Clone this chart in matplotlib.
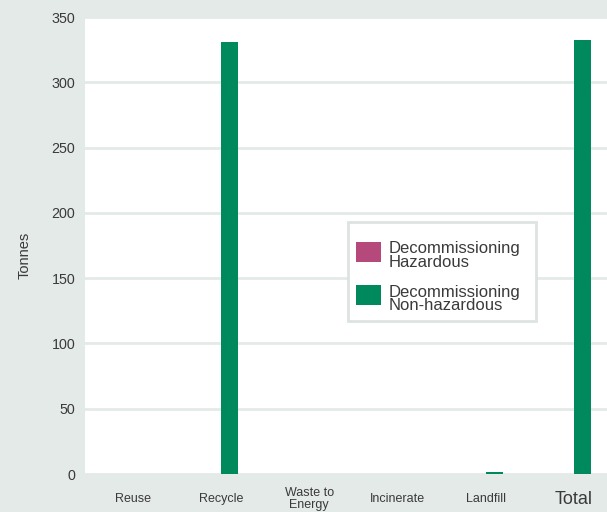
import matplotlib.pyplot as plt
from matplotlib.patches import Rectangle
import numpy as np

categories = ["Reuse", "Recycle", "Waste to\nEnergy", "Incinerate", "Landfill", "Total"]
series = ["Decommissioning\nHazardous", "Decommissioning\nNon-hazardous"]
hazardous = [0, 0, 0, 0, 0, 0]
non_hazardous = [0, 331, 0, 0, 1.5, 332.5]
y_ticks = [0, 50, 100, 150, 200, 250, 300, 350]

BG = "#e4eae7"
GREEN = "#00895c"
PINK = "#b5497c"
TEXT = "#3a3a3a"
W, H = 607, 512

plt.rcParams["font.family"] = ["Liberation Sans", "DejaVu Sans"]

fig = plt.figure(figsize=(W / 100, H / 100), dpi=100, facecolor=BG)
ax = fig.add_axes([85 / W, 38 / H, 522 / W, 457 / H])
ax.set_facecolor("white")

x = np.arange(len(categories))
w = 0.193
colors = [PINK, GREEN]
ax.bar(x - w / 2, hazardous, w, color=colors[0], zorder=3)
ax.bar(x + w / 2, non_hazardous, w, color=colors[1], zorder=3)

ax.set_xlim(-0.541, 5.374)
ax.set_ylim(0, 350)
ax.set_yticks(y_ticks)
ax.yaxis.grid(True, color=BG, linewidth=2, zorder=1)
ax.set_axisbelow(True)
for s in ax.spines.values():
    s.set_visible(False)

ax.tick_params(axis="y", length=0, pad=7, labelsize=10.3, labelcolor=TEXT)
ax.tick_params(axis="x", length=0, pad=18, labelcolor=TEXT)
ax.set_xticks(x)
ax.set_xticklabels(categories)
for i, lab in enumerate(ax.get_xticklabels()):
    lab.set_va("center")
    lab.set_linespacing(0.9)
    lab.set_fontsize(13 if categories[i] == "Total" else 9)

ax.set_ylabel("Tonnes", fontsize=10.5, color=TEXT)
ax.yaxis.set_label_coords(-0.1015, 0.479)


# legend drawn in figure pixels (top-down)
def fx(px):
    return px / W


def fy(py):
    return 1 - py / H


fig.patches.append(Rectangle((fx(348), fy(321)), fx(536) - fx(348), fy(222) - fy(321),
                             transform=fig.transFigure, facecolor="white",
                             edgecolor="#dde3e0", linewidth=2, zorder=5))
entry_top = [241.5, 285]
for k, label in enumerate(series):
    top = entry_top[k]
    fig.patches.append(Rectangle((fx(356), fy(top + 20)), fx(381) - fx(356), fy(top) - fy(top + 20),
                                 transform=fig.transFigure, facecolor=colors[k],
                                 edgecolor="none", zorder=6))
    for j, line in enumerate(label.split("\n")):
        fig.text(fx(389), fy(top + 11.5 + 13.7 * j), line, fontsize=12, color=TEXT,
                 va="baseline", ha="left", zorder=7)

fig.savefig("out.png", dpi=100, facecolor=BG)
